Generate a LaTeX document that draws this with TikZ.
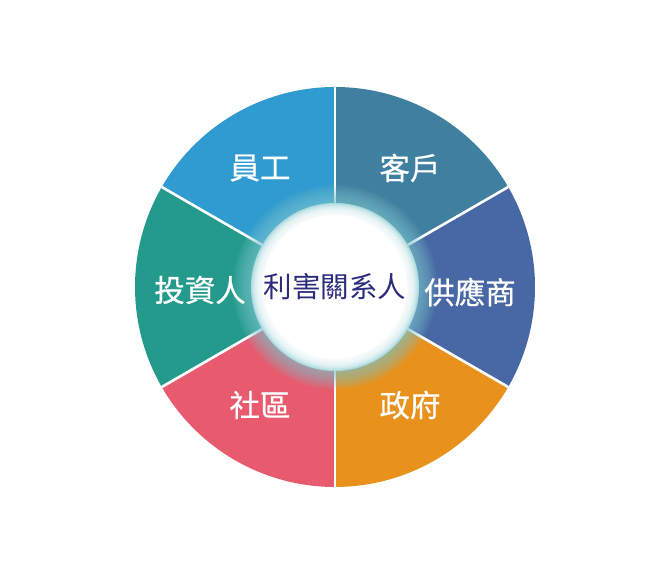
\documentclass[tikz,border=0pt]{standalone}
\usepackage{fontspec}
\newfontfamily\cjk{Noto Sans CJK TC}
\newfontfamily\cjkb[FakeBold=0.6]{Noto Sans CJK TC}
\definecolor{cEmp}{HTML}{2F9BD0}
\definecolor{cCus}{HTML}{3F7FA0}
\definecolor{cSup}{HTML}{4768A4}
\definecolor{cGov}{HTML}{E8921C}
\definecolor{cCom}{HTML}{E85A6E}
\definecolor{cInv}{HTML}{239A8C}
\definecolor{cNavy}{HTML}{2B2B7C}
\definecolor{cGlow}{HTML}{7CC6CE}
\begin{document}
\begin{tikzpicture}[x=1pt,y=1pt,
  seglabel/.style={text=white,font=\cjkb\fontsize{30.5}{31}\selectfont,inner sep=0pt},
  divider/.style={draw=white,line width=2.6pt}]
\useasboundingbox (0,0) rectangle (670,575);
\fill[white] (0,0) rectangle (670,575);
\coordinate (C) at (335,288);
% sectors
\fill[cCus] (C) -- ++(30:200) arc (30:90:200) -- cycle;
\fill[cEmp] (C) -- ++(90:200) arc (90:150:200) -- cycle;
\fill[cInv] (C) -- ++(150:200) arc (150:210:200) -- cycle;
\fill[cCom] (C) -- ++(210:200) arc (210:270:200) -- cycle;
\fill[cGov] (C) -- ++(270:200) arc (270:330:200) -- cycle;
\fill[cSup] (C) -- ++(330:200) arc (330:390:200) -- cycle;
% dividers
\foreach \a in {30,90,150,210,270,330}
  \draw[divider] (C) -- ++(\a:200);
% glow
\foreach \r in {102,100,...,84}
  \fill[cGlow,opacity=0.1] (C) circle (\r);
\fill[cGlow!80] (C) circle (84);
\foreach \r in {84,83,...,72}
  \fill[white,opacity=0.2] (C) circle (\r);
\fill[white] (C) circle (72);
% labels
\node[seglabel] (emp) at (260,407) {員工};
\node[seglabel] (cus) at (410,407) {客戶};
\node[seglabel] (inv) at (200,285) {投資人};
\node[seglabel] (sup) at (470,283) {供應商};
\node[seglabel] (com) at (260,170) {社區};
\node[seglabel] (gov) at (410,170) {政府};
\node[text=cNavy,font=\cjk\fontsize{28.5}{29}\selectfont,inner sep=0pt] (ctr) at (C) {利害關系人};
\end{tikzpicture}
\end{document}
